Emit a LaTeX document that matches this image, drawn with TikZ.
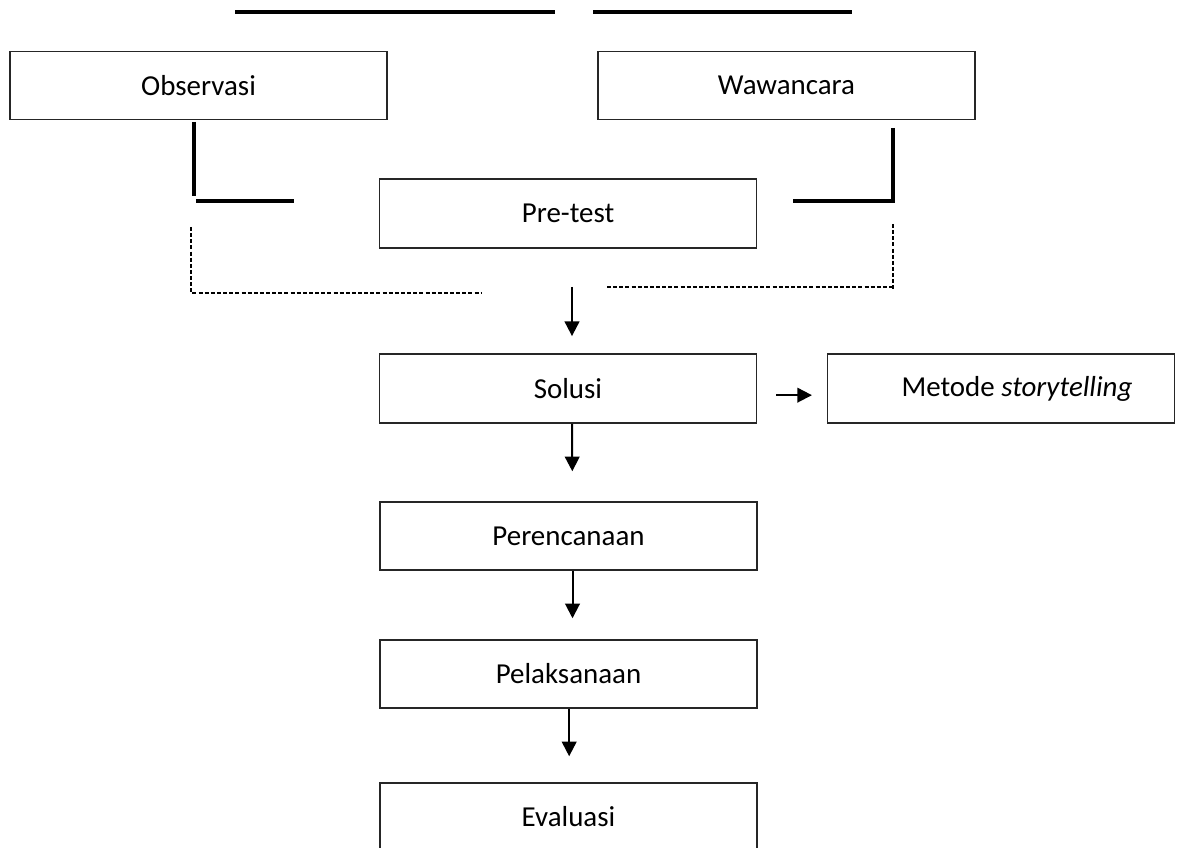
\documentclass[tikz,border=0pt]{standalone}
\usepackage{fontspec}
\setmainfont{Carlito}
\usetikzlibrary{arrows.meta,calc}
\begin{document}
\begin{tikzpicture}[x=0.75pt,y=-0.75pt,
  box/.style={draw=black!85,line width=1.1pt,minimum width=283pt,minimum height=51pt,inner sep=0pt,font=\fontsize{21.7}{26}\selectfont},
  solidln/.style={line width=2.3pt},
  dashln/.style={line width=1.2pt,dash pattern=on 3pt off 1.6pt},
  arr/.style={line width=1.5pt,-{Triangle[width=11pt,length=11pt]}}]
\useasboundingbox (0,0) rectangle (1202,848);
% boxes
\node[box] (obs) at (198.5,85.5) {Observasi};
\node[box] (waw) at (786.5,85.5) {Wawancara};
\node[box,minimum height=52pt] (pre) at (568,213.5) {Pre-test};
\node[box,minimum height=52pt] (sol) at (568,388.5) {Solusi};
\node[box,minimum width=260pt,minimum height=52pt] (met) at (1001,388.5) {\hspace*{24pt}Metode \textit{storytelling}};
\node[box] (per) at (568.5,536) {Perencanaan};
\node[box] (pel) at (568.5,674) {Pelaksanaan};
\node[box] (eva) at (568.5,817) {Evaluasi};
% top lines
\draw[solidln] (235,12) -- (555,12);
\draw[solidln] (593,12) -- (852,12);
% left bracket
\draw[solidln] (194,122) -- (194,196);
\draw[solidln] (196,201) -- (294,201);
% right bracket
\draw[solidln] (893,128) -- (893,203);
\draw[solidln] (793,201) -- (893,201);
% dashed lines
\draw[dashln] (191,227) -- (191,293) -- (482,293);
\draw[dashln] (607,287) -- (893,287);
\draw[dashln] (893,224) -- (893,290);
% arrows
\coordinate (inA) at (572,287);
\draw[arr,shorten >=12.75pt] (inA) -- (inA |- sol.north);
\draw[arr,shorten >=22.5pt] ([xshift=3pt]sol.south) -- ([xshift=3pt]per.north);
\draw[arr,shorten >=15.75pt] ([xshift=3pt]per.south) -- ([xshift=3pt]pel.north);
\draw[arr,shorten >=19.5pt] ([xshift=0.5pt]pel.south) -- ([xshift=0.5pt]eva.north);
\draw[arr,shorten <=14.25pt,shorten >=11.25pt] ([yshift=-5pt]sol.east) -- ([yshift=-5pt]met.west);
\end{tikzpicture}
\end{document}
